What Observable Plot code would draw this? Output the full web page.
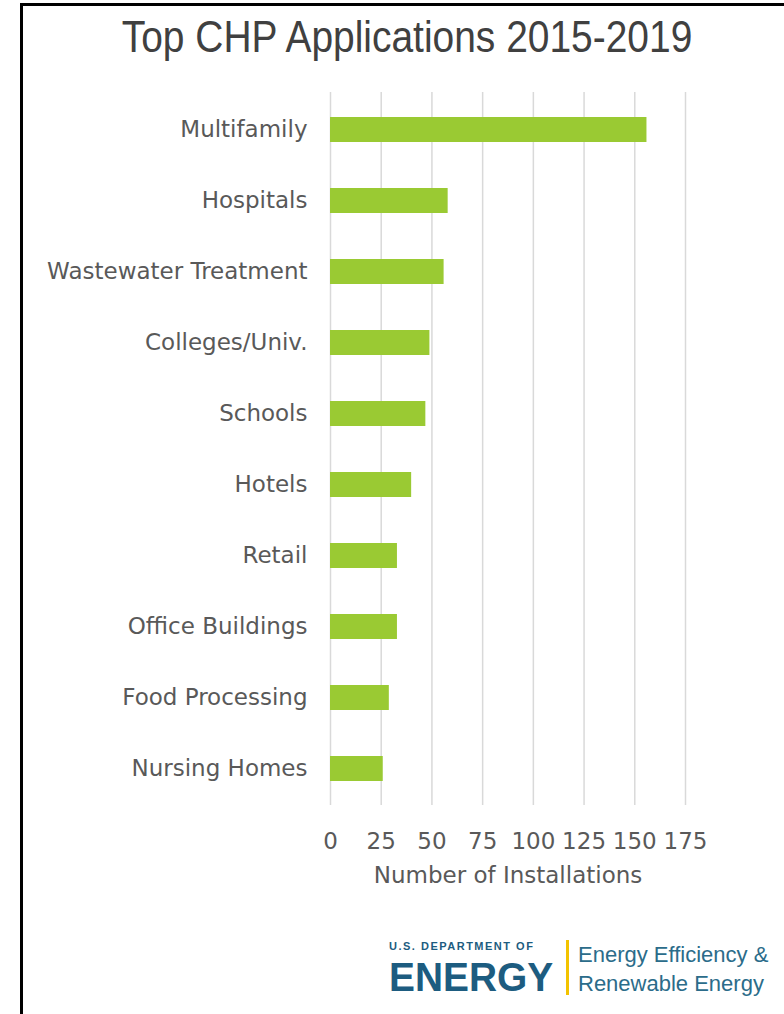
<!DOCTYPE html>
<html>
<head>
<meta charset="utf-8">
<script src="https://cdn.jsdelivr.net/npm/d3@7"></script>
<script src="https://cdn.jsdelivr.net/npm/@observablehq/plot@0.6"></script>
<style>
  html, body { margin: 0; padding: 0; background: #fff; }
  #page { position: relative; width: 784px; height: 1014px; overflow: hidden; background: #fff; }
  #chart { position: absolute; left: 0; top: 0; }
  .t { position: absolute; white-space: nowrap; font-family: "Liberation Sans", Arial, sans-serif; }
  #title { left: 0; width: 814px; top: 14px; text-align: center; font-size: 45px; line-height: 45px; color: #404040; transform: scaleX(0.865); transform-origin: 407px 0; }
  #frame { position: absolute; left: 20px; top: 3px; width: 900px; height: 1100px; border-left: 3px solid #000; border-top: 3px solid #000; pointer-events: none; }
  #doe1 { left: 389px; top: 941px; font-size: 11px; line-height: 11px; font-weight: bold; letter-spacing: 1.5px; color: #1d5c80; }
  #doe2 { left: 389px; top: 962.5px; font-size: 41px; line-height: 28px; font-weight: bold; color: #1d5c80; transform: scaleX(0.948); transform-origin: 0 0; }
  #bar { position: absolute; left: 566px; top: 940px; width: 2.5px; height: 55px; background: #f3c300; }
  #ee1 { left: 578px; top: 944px; font-size: 22px; line-height: 22px; color: #2b6c8a; }
  #ee2 { left: 578px; top: 973px; font-size: 22px; line-height: 22px; color: #2b6c8a; }
</style>
</head>
<body>
<div id="page">
  <div id="chart"></div>
  <div class="t" id="title">Top CHP Applications 2015-2019</div>
  <div class="t" id="doe1">U.S. DEPARTMENT OF</div>
  <div class="t" id="doe2">ENERGY</div>
  <div id="bar"></div>
  <div class="t" id="ee1">Energy Efficiency &amp;</div>
  <div class="t" id="ee2">Renewable Energy</div>
  <div id="frame"></div>
</div>
<script>
const categories = ["Multifamily", "Hospitals", "Wastewater Treatment", "Colleges/Univ.", "Schools", "Hotels", "Retail", "Office Buildings", "Food Processing", "Nursing Homes"];
const installations = [156, 58, 56, 49, 47, 40, 33, 33, 29, 26];
const xTicks = [0, 25, 50, 75, 100, 125, 150, 175];
const xLabel = "Number of Installations";

const data = categories.map((c, i) => ({category: c, value: installations[i]}));

const chart = Plot.plot({
  width: 784,
  height: 900,
  marginLeft: 330,
  marginRight: 99,
  marginTop: 92,
  marginBottom: 95,
  style: {fontFamily: "DejaVu Sans", fontSize: "22px", color: "#595959", background: "transparent", overflow: "visible"},
  x: {domain: [0, 175], ticks: xTicks, label: null},
  y: {domain: categories, paddingInner: 0.65, paddingOuter: 0.325, label: null},
  marks: [
    Plot.gridX(xTicks, {stroke: "#d9d9d9", strokeOpacity: 1, strokeWidth: 1.5}),
    Plot.barX(data, {y: "category", x: "value", fill: "#9aca33"}),
    Plot.axisX(xTicks, {tickSize: 0, tickPadding: 27.5, fontSize: 23, fill: "#595959", label: null}),
    Plot.axisY({tickSize: 0, tickPadding: 23, fontSize: 23, fill: "#595959", label: null}),
    Plot.text([xLabel], {frameAnchor: "bottom", dy: 70, lineAnchor: "middle", fontSize: 23, fill: "#595959"})
  ]
});
document.getElementById("chart").appendChild(chart);
</script>
</body>
</html>
